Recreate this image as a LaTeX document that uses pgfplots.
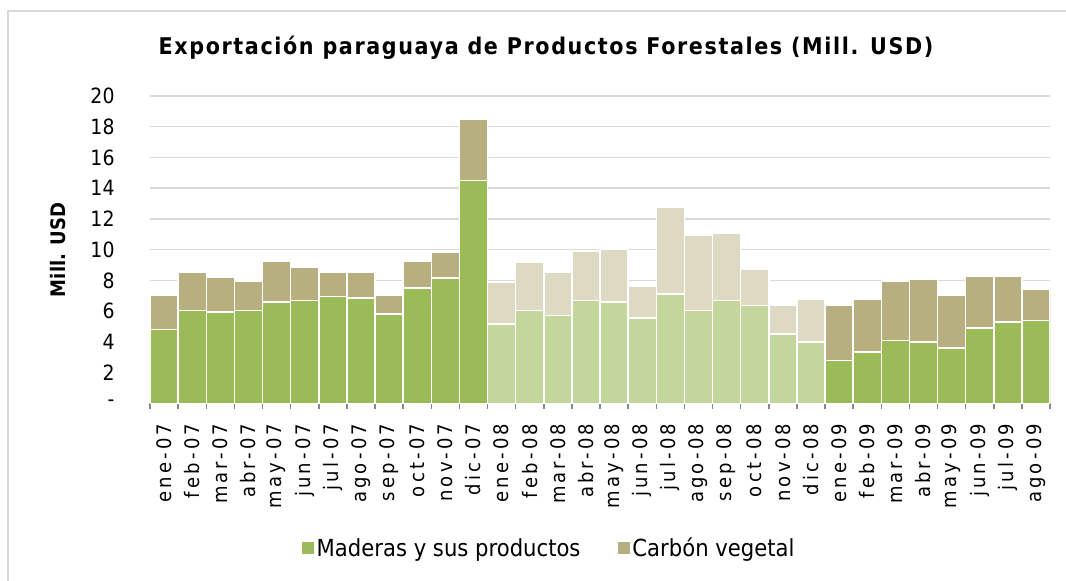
\documentclass[border=0pt]{standalone}
\usepackage{fontspec}
\setmainfont{DejaVu Sans}[FakeStretch=0.9]
\usepackage{pgfplots}
\usepackage{pgfplotstable}
\pgfplotsset{compat=1.18}
\definecolor{grnA}{HTML}{9BBB59}
\definecolor{tanA}{HTML}{B8AF81}
\definecolor{grnB}{HTML}{C3D69B}
\definecolor{tanB}{HTML}{DDD9C3}
\definecolor{gridc}{HTML}{D9D9D9}
\definecolor{axc}{HTML}{898989}

\pgfplotstableread{
i m c
0 4.80 2.25
1 6.05 2.45
2 5.95 2.25
3 6.05 1.90
4 6.60 2.65
5 6.70 2.15
6 6.95 1.55
7 6.85 1.65
8 5.80 1.25
9 7.50 1.75
10 8.15 1.65
11 14.50 4.00
}\dA
\pgfplotstableread{
i m c
12 5.15 2.70
13 6.05 3.10
14 5.70 2.80
15 6.70 3.20
16 6.60 3.45
17 5.55 2.05
18 7.10 5.65
19 6.05 4.90
20 6.70 4.35
21 6.35 2.40
22 4.50 1.90
23 4.00 2.80
}\dB
\pgfplotstableread{
i m c
24 2.80 3.60
25 3.35 3.45
26 4.10 3.85
27 4.00 4.10
28 3.60 3.45
29 4.90 3.35
30 5.30 2.95
31 5.40 2.05
}\dC

\begin{document}
\begin{tikzpicture}[x=1pt,y=1pt]
\useasboundingbox (0,0) rectangle (1066,581);
\draw[color=gridc, line width=1.5pt] (8,570) rectangle (1100,-20);
\node[font=\bfseries\fontsize{23}{26}\selectfont\addfontfeature{LetterSpace=7}] at (546,533) {Exportación paraguaya de Productos Forestales (Mill. USD)};
\node[rotate=90, font=\bfseries\fontsize{20}{24}\selectfont] at (58,331) {Mill. USD};
\begin{axis}[
  at={(150pt,177.7pt)}, anchor=south west,
  width=900pt, height=307.3pt, scale only axis,
  xmin=-0.5, xmax=31.5, ymin=0, ymax=20,
  axis x line*=bottom, axis y line*=left,
  y axis line style={draw=none},
  x axis line style={draw=axc, line width=1.5pt},
  ytick={0,2,...,20},
  yticklabels={-,2,4,6,8,10,12,14,16,18,20},
  ytick style={draw=none},
  yticklabel style={font=\fontsize{21}{21}\selectfont, inner sep=0pt, xshift=-31pt, anchor=east},
  xtick={0,...,31},
  xticklabels={ene-07,feb-07,mar-07,abr-07,may-07,jun-07,jul-07,ago-07,sep-07,oct-07,nov-07,dic-07,
    ene-08,feb-08,mar-08,abr-08,may-08,jun-08,jul-08,ago-08,sep-08,oct-08,nov-08,dic-08,
    ene-09,feb-09,mar-09,abr-09,may-09,jun-09,jul-09,ago-09},
  major x tick style={draw=none},
  minor xtick={-0.5,0.5,...,31.5},
  minor x tick style={draw=axc, line width=1.5pt},
  minor tick length=6pt,
  tick align=outside,
  xticklabel style={rotate=90, anchor=east, inner sep=0pt, xshift=-16pt,
    font=\fontsize{20}{20}\selectfont\addfontfeature{LetterSpace=16}},
  ymajorgrids,
  major grid style={draw=gridc, line width=1.5pt},
  legend style={at={(0.444,-0.471)}, anchor=center, draw=none, fill=none,
    legend columns=2, font=\fontsize{23.5}{26}\selectfont,
    nodes={inner sep=2.5pt},
    /tikz/every even column/.append style={column sep=35pt}},
  legend image code/.code={\fill[#1] (0pt,-6pt) rectangle (12pt,6pt);},
]
\addplot[ybar, bar width=1, bar shift=0pt, fill=tanA, draw=white, line width=1.5pt, forget plot]
  table[x=i, y expr=\thisrow{m}+\thisrow{c}] {\dA};
\addplot[ybar, bar width=1, bar shift=0pt, fill=grnA, draw=white, line width=1.5pt, forget plot]
  table[x=i, y=m] {\dA};
\addplot[ybar, bar width=1, bar shift=0pt, fill=tanB, draw=white, line width=1.5pt, forget plot]
  table[x=i, y expr=\thisrow{m}+\thisrow{c}] {\dB};
\addplot[ybar, bar width=1, bar shift=0pt, fill=grnB, draw=white, line width=1.5pt, forget plot]
  table[x=i, y=m] {\dB};
\addplot[ybar, bar width=1, bar shift=0pt, fill=tanA, draw=white, line width=1.5pt, forget plot]
  table[x=i, y expr=\thisrow{m}+\thisrow{c}] {\dC};
\addplot[ybar, bar width=1, bar shift=0pt, fill=grnA, draw=white, line width=1.5pt, forget plot]
  table[x=i, y=m] {\dC};
\addlegendimage{fill=grnA, draw=none}
\addlegendentry{Maderas y sus productos}
\addlegendimage{fill=tanA, draw=none}
\addlegendentry{Carbón vegetal}
\end{axis}
\end{tikzpicture}
\end{document}
